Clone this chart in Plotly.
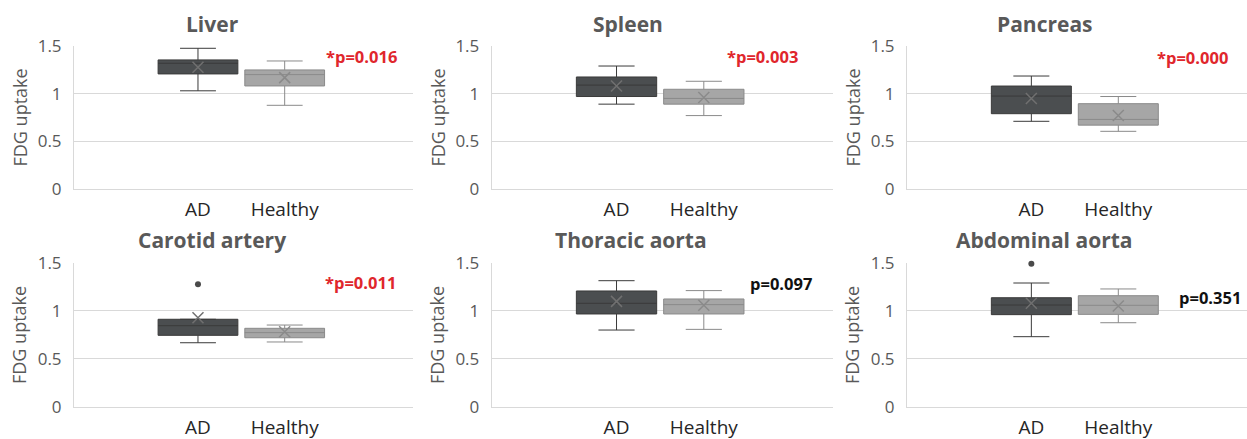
import plotly.graph_objects as go

regions = ["Liver", "Spleen", "Pancreas", "Carotid artery", "Thoracic aorta", "Abdominal aorta"]
groups = ["AD", "Healthy"]
p_labels = ["*p=0.016", "*p=0.003", "*p=0.000", "*p=0.011", "p=0.097", "p=0.351"]
p_significant = [True, True, True, True, False, False]

ad_lower = [1.03, 0.89, 0.71, 0.668, 0.80, 0.731]
ad_q1 = [1.207, 0.97, 0.79, 0.745, 0.967, 0.96]
ad_median = [1.319, 1.09, 0.975, 0.845, 1.078, 1.06]
ad_q3 = [1.354, 1.175, 1.08, 0.912, 1.206, 1.136]
ad_upper = [1.476, 1.29, 1.185, 0.912, 1.313, 1.289]
ad_mean = [1.277, 1.08, 0.95, 0.928, 1.098, 1.078]
ad_outliers = [[], [], [], [1.275], [], [1.49]]

hc_lower = [0.878, 0.77, 0.605, 0.676, 0.807, 0.876]
hc_q1 = [1.081, 0.89, 0.67, 0.72, 0.967, 0.963]
hc_median = [1.20, 0.95, 0.73, 0.773, 1.064, 1.057]
hc_q3 = [1.249, 1.046, 0.895, 0.818, 1.123, 1.157]
hc_upper = [1.343, 1.13, 0.97, 0.852, 1.21, 1.227]
hc_mean = [1.168, 0.96, 0.77, 0.783, 1.057, 1.05]
hc_outliers = [[], [], [], [], [], []]

y_ticks = [0, 0.5, 1, 1.5]
y_ticktext = ["0", "0.5", "1", "1.5"]

W, H = 1247, 439
FONT = "Open Sans"
GRAY = "#595959"

# subplot geometry (pixels)
col_px = [(74, 413), (491.7, 833), (907, 1247)]
row_px = [(46, 189), (262.7, 407)]
title_px = [(212, 24), (628, 24), (1045, 24), (212, 240), (631, 240), (1044, 240)]
ytitle_px = [(19, 117.5), (437, 117.5), (852, 117.5), (19, 335), (437, 335), (852, 335)]
p_px = [(361, 57), (762.5, 57), (1192.5, 58), (360.5, 282), (780.5, 283), (1214.5, 297)]

styles = {
    "AD": dict(fill="#4b4e50", line="#3a3a3a", mean="#707070"),
    "Healthy": dict(fill="#a6a6a6", line="#8a8a8a", mean="#8a8a8a"),
}

fig = go.Figure()
annotations = []
layout = {}

for i, reg in enumerate(regions):
    r, c = divmod(i, 3)
    n = i + 1
    xa = "x" if n == 1 else f"x{n}"
    ya = "y" if n == 1 else f"y{n}"
    stats = {
        "AD": (ad_lower[i], ad_q1[i], ad_median[i], ad_q3[i], ad_upper[i], ad_mean[i], ad_outliers[i]),
        "Healthy": (hc_lower[i], hc_q1[i], hc_median[i], hc_q3[i], hc_upper[i], hc_mean[i], hc_outliers[i]),
    }
    for g in groups:
        lo, q1, med, q3, up, mn, outs = stats[g]
        st = styles[g]
        fig.add_trace(go.Box(
            x=[g], q1=[q1], median=[med], q3=[q3], lowerfence=[lo], upperfence=[up],
            fillcolor=st["fill"], line=dict(color=st["line"], width=1),
            width=0.92, whiskerwidth=0.45, boxpoints=False, showlegend=False,
            xaxis=xa, yaxis=ya, hoverinfo="skip",
        ))
        fig.add_trace(go.Scatter(
            x=[g], y=[mn], mode="markers", cliponaxis=False,
            marker=dict(symbol="x-thin", size=11, line=dict(color=st["mean"], width=1.5)),
            showlegend=False, xaxis=xa, yaxis=ya, hoverinfo="skip",
        ))
        if outs:
            fig.add_trace(go.Scatter(
                x=[g] * len(outs), y=outs, mode="markers", cliponaxis=False,
                marker=dict(symbol="circle", size=6, color="#4a4a4a"),
                showlegend=False, xaxis=xa, yaxis=ya, hoverinfo="skip",
            ))
    x0, x1 = col_px[c]
    y0, y1 = row_px[r]
    layout[f"xaxis{'' if n == 1 else n}"] = dict(
        domain=[x0 / W, x1 / W], anchor=ya, type="category",
        categoryorder="array", categoryarray=groups, range=[-1.43, 2.48],
        showgrid=False, showline=True, linecolor="#d9d9d9", linewidth=1,
        ticks="", tickfont=dict(family=FONT, size=19, color="#262626"),
        ticklabelstandoff=3, zeroline=False, fixedrange=True, automargin=False,
    )
    layout[f"yaxis{'' if n == 1 else n}"] = dict(
        domain=[1 - y1 / H, 1 - y0 / H], anchor=xa, range=[0, 1.5],
        tickvals=y_ticks, ticktext=y_ticktext,
        showgrid=True, gridcolor="#d9d9d9", gridwidth=1,
        showline=True, linecolor="#d9d9d9", linewidth=1,
        ticks="", tickfont=dict(family=FONT, size=17, color=GRAY),
        ticklabelstandoff=8, zeroline=False, fixedrange=True, automargin=False,
    )
    tx, ty = title_px[i]
    annotations.append(dict(
        text=f"<b>{reg}</b>", x=tx / W, y=1 - ty / H, xref="paper", yref="paper",
        showarrow=False, xanchor="center", yanchor="middle",
        font=dict(family=FONT, size=21, color=GRAY),
    ))
    ax_, ay_ = ytitle_px[i]
    annotations.append(dict(
        text="FDG uptake", x=ax_ / W, y=1 - ay_ / H, xref="paper", yref="paper",
        showarrow=False, xanchor="center", yanchor="middle", textangle=-90,
        font=dict(family=FONT, size=18, color=GRAY),
    ))
    px_, py_ = p_px[i]
    annotations.append(dict(
        text=f"<b>{p_labels[i]}</b>", x=min(px_, 1210) / W, y=1 - py_ / H, xref="paper", yref="paper",
        showarrow=False, xanchor="center", yanchor="middle",
        font=dict(family=FONT, size=16.5, color="#e0262c" if p_significant[i] else "#111111"),
    ))

fig.update_layout(
    width=W, height=H, margin=dict(l=0, r=0, t=0, b=0, autoexpand=False),
    paper_bgcolor="white", plot_bgcolor="white",
    boxmode="overlay", annotations=annotations, **layout,
)

fig.write_html(
    "out.html",
    config={"responsive": False, "displayModeBar": False},
    post_script="document.body.style.margin='0';document.body.style.overflow='hidden';",
)
